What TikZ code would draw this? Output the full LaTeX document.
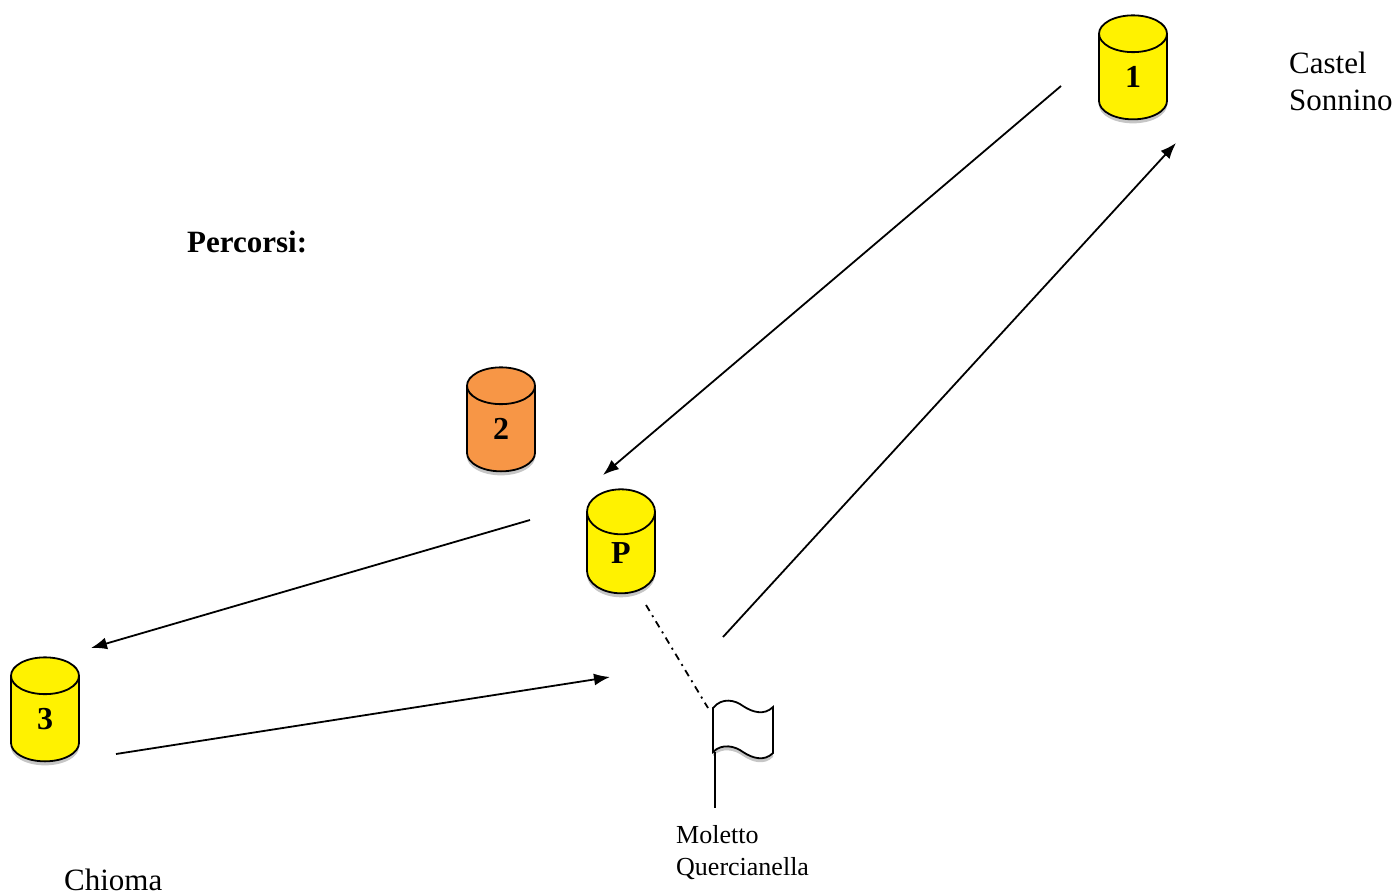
\documentclass[tikz,border=0pt]{standalone}
\usepackage{fontspec}
\setmainfont{Liberation Serif}
\usetikzlibrary{shapes.geometric,shadows,arrows.meta}
\definecolor{tankorange}{HTML}{F79646}

\begin{document}
\begin{tikzpicture}[x=1pt,y=-1pt,>={Latex[length=16pt,width=12pt]},
    tank/.style={cylinder,shape border rotate=90,draw,line width=1.8pt,
      minimum width=68pt,minimum height=104pt,aspect=2.3,inner sep=0pt,
      fill=yellow,drop shadow={opacity=0.45,shadow xshift=0pt,shadow yshift=-4pt},
      font=\fontsize{32}{32}\selectfont\bfseries},
    route/.style={->,line width=1.8pt},
    place/.style={align=left,inner sep=0pt,anchor=north west}]
  \useasboundingbox (0,0) rectangle (1397,896);
  % tanks
  \node[tank] (t1) at (1133,77) {1};
  \node[tank,fill=tankorange] (t2) at (501,429) {2};
  \node[tank] (tP) at (621,553) {P};
  \node[tank] (t3) at (45,719) {3};
  % flag at the pier
  \draw[line width=1.8pt,fill=white,drop shadow={opacity=0.45,shadow xshift=0pt,shadow yshift=-4pt}]
    (713,708) .. controls (722,697) and (735,700) .. (743,706)
    .. controls (752,712) and (764,716) .. (773,707) -- (773,753)
    .. controls (764,762) and (752,758) .. (743,752)
    .. controls (735,746) and (722,743) .. (713,752) -- cycle;
  \coordinate (flag) at (715,752);
  \coordinate (pole) at (715,808);
  \draw[line width=1.8pt] (flag) -- (pole);
  % route ends
  \coordinate (s1) at (1061,86);  \coordinate (e1) at (603,475);
  \coordinate (s2) at (530,520);  \coordinate (e2) at (91,648);
  \coordinate (s3) at (116,754);  \coordinate (e3) at (610,677);
  \coordinate (s4) at (723,637);  \coordinate (e4) at (1176,143);
  \coordinate (d1) at (646,605);  \coordinate (d2) at (708,708);
  \foreach \a/\b in {s1/e1,s2/e2,s3/e3,s4/e4}
    \draw[route] (\a) -- (\b);
  \draw[line width=1.8pt,dash pattern=on 7pt off 5pt on 2pt off 5pt] (d1) -- (d2);
  % labels
  \node[place,font=\fontsize{31}{37}\selectfont] (castel) at (1289,52) {Castel\\Sonnino};
  \node[place,font=\fontsize{26}{32}\selectfont] (moletto) at (676,825) {Moletto\\Quercianella};
  \node[place,font=\fontsize{31}{37}\selectfont] (chioma) at (64,869) {Chioma};
  \node[anchor=base west,inner sep=0pt,font=\fontsize{31}{37}\selectfont\bfseries] (percorsi) at (187,252) {Percorsi:};
\end{tikzpicture}
\end{document}
